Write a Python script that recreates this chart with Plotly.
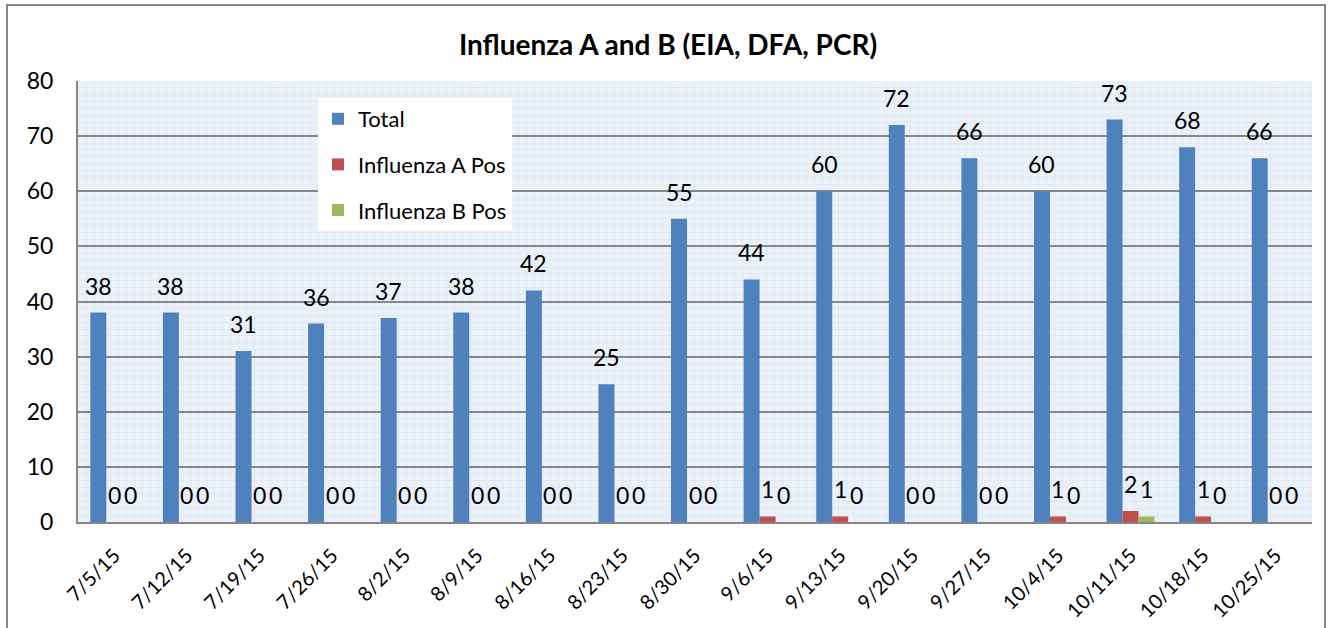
import plotly.graph_objects as go

categories = ["7/5/15", "7/12/15", "7/19/15", "7/26/15", "8/2/15", "8/9/15", "8/16/15",
              "8/23/15", "8/30/15", "9/6/15", "9/13/15", "9/20/15", "9/27/15", "10/4/15",
              "10/11/15", "10/18/15", "10/25/15"]
total = [38, 38, 31, 36, 37, 38, 42, 25, 55, 44, 60, 72, 66, 60, 73, 68, 66]
flu_a = [0, 0, 0, 0, 0, 0, 0, 0, 0, 1, 1, 0, 0, 1, 2, 1, 0]
flu_b = [0, 0, 0, 0, 0, 0, 0, 0, 0, 0, 0, 0, 0, 0, 1, 0, 0]
y_ticks = [0, 10, 20, 30, 40, 50, 60, 70, 80]

FONT = "Lato"
W, H = 1336, 628
L, R, T, B = 78, 24, 81, 106
BARGAP = 0.34

fig = go.Figure()
series = [("Total", total, "#4F81BD"), ("Influenza A Pos", flu_a, "#C0504D"),
          ("Influenza B Pos", flu_b, "#9BBB59")]
for name, vals, col in series:
    fig.add_trace(go.Bar(
        x=categories, y=vals, name=name, legendgroup=name,
        marker=dict(color=col, line=dict(color=col, width=0)),
    ))

# invisible trace for texture grid on overlay axis
pw = W - L - R
ph = H - T - B
fig.add_trace(go.Scatter(x=[0, 1], y=[0, 1], xaxis="x2", yaxis="y",
                         mode="markers", marker=dict(opacity=0),
                         showlegend=False, hoverinfo="skip"))

# data labels above each bar
bw = pw / len(categories) * (1 - BARGAP) / len(series)
annotations = []
for si, (name, vals, col) in enumerate(series):
    for c, v in zip(categories, vals):
        annotations.append(dict(
            x=c, y=v, xref="x", yref="y", text=str(v), showarrow=False,
            xshift=(si - 1) * bw, yshift=27, yanchor="middle", xanchor="center",
            font=dict(family=FONT, size=23, color="#000000")))

fig.update_layout(
    width=W, height=H,
    margin=dict(l=L, r=R, t=T, b=B, autoexpand=False),
    paper_bgcolor="white",
    plot_bgcolor="#EBF1F9",
    barmode="group", bargap=BARGAP, bargroupgap=0.0,
    title=dict(text="<b>Influenza A and B (EIA, DFA, PCR)</b>",
               font=dict(family=FONT, size=28, color="#000000"),
               x=0.5, xanchor="center", y=1 - 45 / H, yanchor="middle"),
    legend=dict(x=(318 - L) / pw, y=1 - (98 - T) / ph, xanchor="left", yanchor="top",
                bgcolor="white", font=dict(family=FONT, size=22, color="#000000"),
                tracegroupgap=14, traceorder="grouped", borderwidth=0),
    annotations=annotations,
    xaxis=dict(type="category", tickangle=-45, automargin=False,
               tickfont=dict(family=FONT, size=20, color="#000000"),
               showgrid=False, showline=True, linecolor="#868686", linewidth=2,
               ticks="", zeroline=False, ticklabelstandoff=12),
    xaxis2=dict(overlaying="x", range=[0, pw], showticklabels=False, showgrid=False,
                zeroline=False, showline=False, automargin=False,
                minor=dict(dtick=8, showgrid=True, gridcolor="#E0E8F3", gridwidth=1),
                layer="below traces"),
    yaxis=dict(range=[0, 80], tickvals=y_ticks, automargin=False,
               tickfont=dict(family=FONT, size=23, color="#000000"),
               showgrid=True, gridcolor="#868686", gridwidth=2,
               minor=dict(dtick=1.25, showgrid=True, gridcolor="#E0E8F3", gridwidth=1),
               showline=True, linecolor="#868686", linewidth=2,
               zeroline=False, ticks="", ticklabelstandoff=18,
               layer="below traces"),
    shapes=[dict(type="rect", xref="paper", yref="paper",
                 x0=(7 - L) / pw, x1=(1325 - L) / pw,
                 y0=-(B + 20) / ph, y1=1 + (T - 5) / ph,
                 line=dict(color="#868686", width=2), fillcolor="rgba(0,0,0,0)",
                 layer="below")],
)

fig.write_html("out.html", config={"displayModeBar": False},
               post_script="document.body.style.margin='0';document.body.style.overflow='hidden';")
